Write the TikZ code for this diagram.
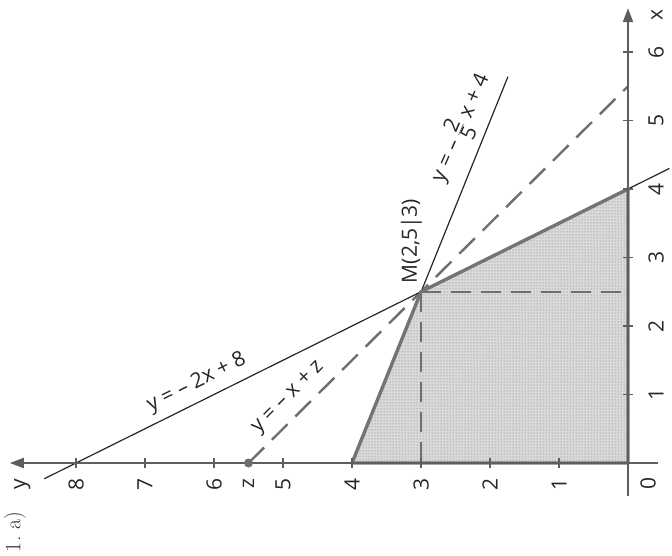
\documentclass[tikz,border=0pt]{standalone}
\usepackage{fontspec}
\setsansfont{Open Sans}
\usetikzlibrary{arrows.meta,patterns}
\definecolor{axisgray}{HTML}{5E5E5E}
\definecolor{boundgray}{HTML}{747474}
\definecolor{dashgray}{HTML}{6E6E6E}
\definecolor{regionfill}{HTML}{DADADA}
\begin{document}
\begin{tikzpicture}[
  axis/.style={draw=axisgray, line width=1.8pt},
  tickmark/.style={draw=axisgray, line width=1.4pt},
  bound/.style={draw=boundgray, line width=3.4pt, line join=round, line cap=round},
  thinline/.style={draw=black!85, line width=1.2pt},
  dashline/.style={draw=dashgray, line width=2.4pt, dash pattern=on 22pt off 11pt},
  dashthin/.style={draw=dashgray, line width=2.2pt, dash pattern=on 20pt off 10pt},
  lbl/.style={font=\sffamily\fontsize{21}{23}\selectfont, text=black!85, inner sep=1pt},
  ticklbl/.style={lbl, rotate=90},
]
\useasboundingbox (0,0) rectangle (672pt,-556pt);
\node[rotate=90, font=\fontsize{22}{24}\selectfont, text=black!80] (task) at (15pt,-532pt) {1.\ a)};
\begin{scope}[shift={(628pt,-463pt)}, x={(0pt,68.5pt)}, y={(-69pt,0pt)}]
  % named points
  \coordinate (O) at (0,0);
  \coordinate (X4) at (4,0);
  \coordinate (Y4) at (0,4);
  \coordinate (M) at (2.5,3);
  \coordinate (Z) at (0,5.5);
  \coordinate (X55) at (5.5,0);
  \coordinate (Mx) at (2.5,0);
  \coordinate (My) at (0,3);
  \coordinate (La) at (-0.23,8.46);
  \coordinate (Lb) at (4.3,-0.6);
  \coordinate (Lc) at (5.64,1.74);
  \coordinate (xs) at (-0.48,0);
  \coordinate (xe) at (6.64,0);
  \coordinate (ys) at (0,-0.43);
  \coordinate (ye) at (0,8.96);
  % shaded region
  \fill[fill=regionfill] (O) -- (Y4) -- (M) -- (X4) -- cycle;
  \fill[pattern=dots, pattern color=black!55] (O) -- (Y4) -- (M) -- (X4) -- cycle;
  % dashed helper lines
  \draw[dashthin] (M) -- (Mx);
  \draw[dashthin] (M) -- (My);
  \draw[dashline] (Z) -- (X55);
  % thin lines
  \draw[thinline] (La) -- (Lb);
  \draw[thinline] (Y4) -- (Lc);
  % region boundary
  \draw[bound] (O) -- (Y4) -- (M) -- (X4) -- cycle;
  % axes
  \draw[axis, -{Triangle[length=14pt,width=10pt]}] (xs) -- (xe);
  \draw[axis, -{Triangle[length=14pt,width=10pt]}] (ys) -- (ye);
  \foreach \i in {1,...,6} {
    \draw[tickmark] (\i,0) +(-5pt,0) -- +(5pt,0);
    \node[ticklbl] (xl\i) at ([xshift=28pt]\i,0) {\i};
  }
  \foreach \i in {1,...,8} {
    \draw[tickmark] (0,\i) +(0,-5pt) -- +(0,5pt);
    \node[ticklbl] (yl\i) at ([yshift=-21pt]0,\i) {\i};
  }
  \node[ticklbl] (zero) at ([xshift=20pt,yshift=-20pt]O) {0};
  \node[ticklbl] (zl) at ([yshift=-21pt]Z) {z};
  \node[ticklbl] (xlab) at ([xshift=29pt]6.54,0) {x};
  \node[ticklbl] (ylab) at ([yshift=-21pt]0,8.78) {y};
  \fill[dashgray] (Z) circle (4.5pt);
  % labels
  \node[lbl, rotate=90] (Mlab) at (3.24,3.14) {M(2,5|3)};
  \node[lbl, rotate=26.3] (l1) at (1.17,6.25) {y = – 2x + 8};
  \node[lbl, rotate=45.3] (l2) at (0.95,4.92) {y = – x + z};
  \node[lbl, rotate=66.4] (l3) at (4.89,2.43) {y = – \(\frac{\mbox{\sffamily 2}}{\mbox{\sffamily 5}}\) x + 4};
\end{scope}
\end{tikzpicture}
\end{document}
